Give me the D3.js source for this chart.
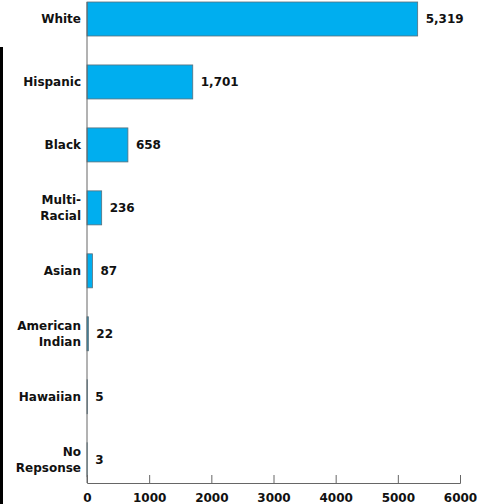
<!DOCTYPE html>
<html>
<head>
<meta charset="utf-8">
<script src="https://d3js.org/d3.v7.min.js"></script>
<style>
  body { margin: 0; background: #fff; }
  svg { display: block; }
</style>
</head>
<body>
<script>
// datos del gráfico
var categories = [["White"], ["Hispanic"], ["Black"], ["Multi-", "Racial"], ["Asian"],
                  ["American", "Indian"], ["Hawaiian"], ["No", "Repsonse"]];
var counts = [5319, 1701, 658, 236, 87, 22, 5, 3];
var xTicks = [0, 1000, 2000, 3000, 4000, 5000, 6000];

var width = 477, height = 504;
var font = "'DejaVu Sans', Verdana, sans-serif";

var svg = d3.select("body").append("svg")
    .attr("width", width)
    .attr("height", height);

// borde negro a la izquierda (resto de otro gráfico)
svg.append("rect")
    .attr("x", 0).attr("y", 47)
    .attr("width", 3).attr("height", height - 47)
    .attr("fill", "#000");

var keys = categories.map(d => d.join(" "));

var x = d3.scaleLinear()
    .domain([0, 6000])
    .range([87, 460]);

var axisY = 483;
var y = d3.scaleBand()
    .domain(keys)
    .range([2, axisY])
    .paddingInner(0.46)
    .paddingOuter(0.05)
    .align(0);

// barras
svg.selectAll("rect.bar")
    .data(counts)
    .enter()
    .append("rect")
    .attr("class", "bar")
    .attr("x", x(0))
    .attr("y", (d, i) => y(keys[i]))
    .attr("width", d => x(d) - x(0))
    .attr("height", y.bandwidth())
    .attr("fill", "#00aeef")
    .attr("stroke", "#5a6f7a")
    .attr("stroke-width", 0.8);

// etiquetas de valor
svg.selectAll("text.val")
    .data(counts)
    .enter()
    .append("text")
    .attr("class", "val")
    .attr("x", d => x(d) + 8)
    .attr("y", (d, i) => y(keys[i]) + y.bandwidth() / 2)
    .attr("dy", "0.36em")
    .style("font-family", font)
    .style("font-size", "12px")
    .style("font-weight", "bold")
    .style("fill", "#111")
    .text(d => d3.format(",")(d));

// etiquetas de categorías
categories.forEach((lines, i) => {
    var cy = y(keys[i]) + y.bandwidth() / 2;
    var lh = 15.5;
    var t = svg.append("text")
        .attr("text-anchor", "end")
        .style("font-family", font)
        .style("font-size", "12px")
        .style("font-weight", "bold")
        .style("fill", "#111");
    lines.forEach((s, j) => {
        t.append("tspan")
            .attr("x", 81)
            .attr("y", cy + (j - (lines.length - 1) / 2) * lh)
            .attr("dy", "0.36em")
            .text(s);
    });
});

// eje vertical
svg.append("line")
    .attr("x1", x(0)).attr("x2", x(0))
    .attr("y1", y(keys[0]))
    .attr("y2", axisY)
    .attr("stroke", "#666")
    .attr("stroke-width", 1);

// eje X
var gx = svg.append("g")
    .attr("transform", `translate(0, ${axisY})`)
    .call(d3.axisBottom(x).tickValues(xTicks).tickSize(-8).tickPadding(10).tickFormat(d3.format("d")));
gx.select(".domain").attr("stroke", "#666");
gx.selectAll(".tick line").attr("stroke", "#666");
gx.selectAll(".tick text")
    .style("font-family", font)
    .style("font-size", "12px")
    .style("font-weight", "bold")
    .style("fill", "#111");
</script>
</body>
</html>
